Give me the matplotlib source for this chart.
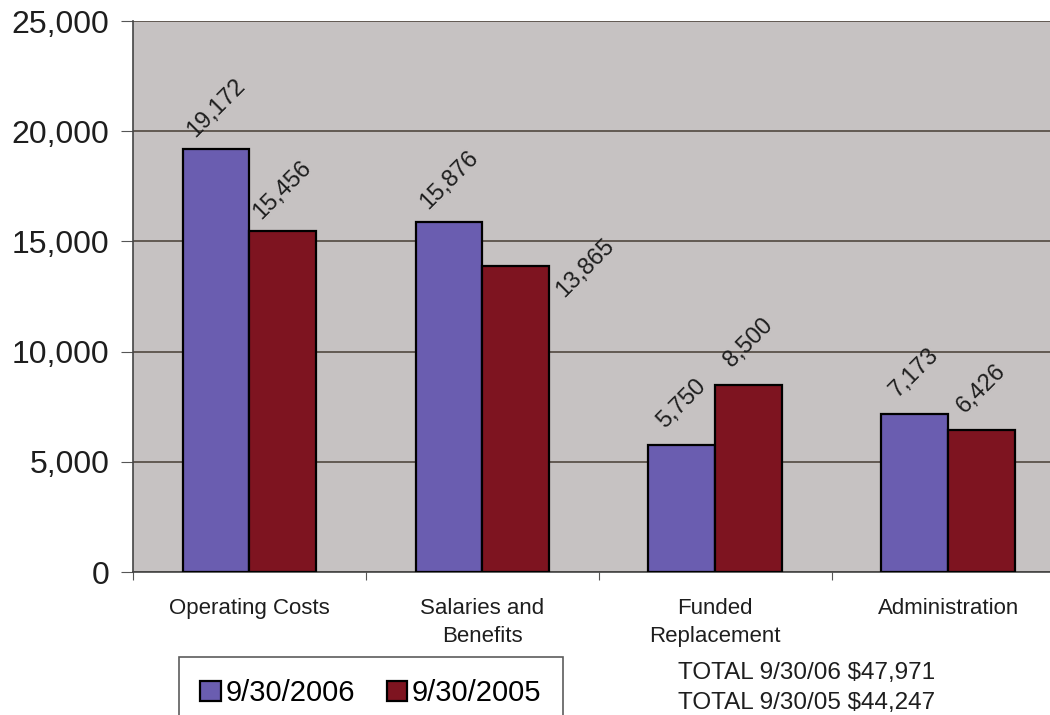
import matplotlib.pyplot as plt
import numpy as np

categories = ["Operating Costs", "Salaries and\nBenefits", "Funded\nReplacement", "Administration"]
series_names = ["9/30/2006", "9/30/2005"]
values_2006 = [19172, 15876, 5750, 7173]
values_2005 = [15456, 13865, 8500, 6426]
totals = ["TOTAL 9/30/06 $47,971", "TOTAL 9/30/05 $44,247"]
yticks = [0, 5000, 10000, 15000, 20000, 25000]

COLORS = ["#6a5db0", "#7e1420"]
PLOT_BG = "#c6c2c2"
GRID = "#625a52"
TEXT = "#1e1e1e"

plt.rcParams["font.family"] = ["Liberation Sans", "DejaVu Sans"]

fig = plt.figure(figsize=(10.5, 7.15), dpi=100)
ax = fig.add_axes([0.1267, 0.2, 0.8873, 0.7706])
ax.set_facecolor(PLOT_BG)

x = np.arange(len(categories))
width = 0.287
bars = []
for i, (vals, color) in enumerate(zip([values_2006, values_2005], COLORS)):
    offs = (i - 0.5) * width
    b = ax.bar(x + offs, vals, width, color=color, edgecolor="black",
               linewidth=1.6, zorder=3, label=series_names[i])
    bars.append(b)

# label nudges in points (dx, dy); the Salaries 2005 label sits off to the right
nudges = {(1, 1): (50, -1)}
for si, b in enumerate(bars):
    for ci, rect in enumerate(b):
        v = rect.get_height()
        dx, dy = nudges.get((ci, si), (0, 30))
        ax.annotate(f"{v:,.0f}", (rect.get_x() + rect.get_width() / 2, v),
                    xytext=(dx, dy), textcoords="offset points",
                    rotation=45, ha="center", va="center",
                    fontsize=17, color=TEXT, zorder=4)

ax.set_xlim(-0.5, len(categories) - 0.5)
ax.set_ylim(0, 25000)
ax.set_yticks(yticks)
ax.set_yticklabels([f"{t:,}" for t in yticks], fontsize=23, color=TEXT)
ax.yaxis.grid(True, color=GRID, linewidth=1.4, zorder=1)
ax.set_axisbelow(True)

ax.set_xticks(np.arange(len(categories) + 1) - 0.5, minor=False)
ax.set_xticklabels([])
ax.set_xticks(x, minor=True)
ax.set_xticklabels(categories, minor=True, fontsize=16, color=TEXT,
                   va="top", linespacing=1.4)
ax.tick_params(axis="x", which="minor", length=0, pad=19)
ax.tick_params(axis="x", which="major", length=6, color="#555555")
ax.tick_params(axis="y", length=9, color="#555555", pad=8)

for side in ["top", "right"]:
    ax.spines[side].set_visible(False)
ax.spines["left"].set_color("#444444")
ax.spines["left"].set_linewidth(1.2)
ax.spines["bottom"].set_color("#444444")
ax.spines["bottom"].set_linewidth(1.2)

leg = fig.legend(loc="upper left", bbox_to_anchor=(0.170, 0.081), ncol=2,
                 fontsize=21, frameon=True, fancybox=False, edgecolor="#333333",
                 handlelength=0.7, handleheight=0.7, handletextpad=0.15,
                 columnspacing=1.1, borderpad=0.75, borderaxespad=0)
leg.get_frame().set_linewidth(1.2)

fig.text(0.646, 0.059, totals[0], fontsize=17.5, color=TEXT, va="center")
fig.text(0.646, 0.017, totals[1], fontsize=17.5, color=TEXT, va="center")

fig.savefig("out.png", dpi=100)
